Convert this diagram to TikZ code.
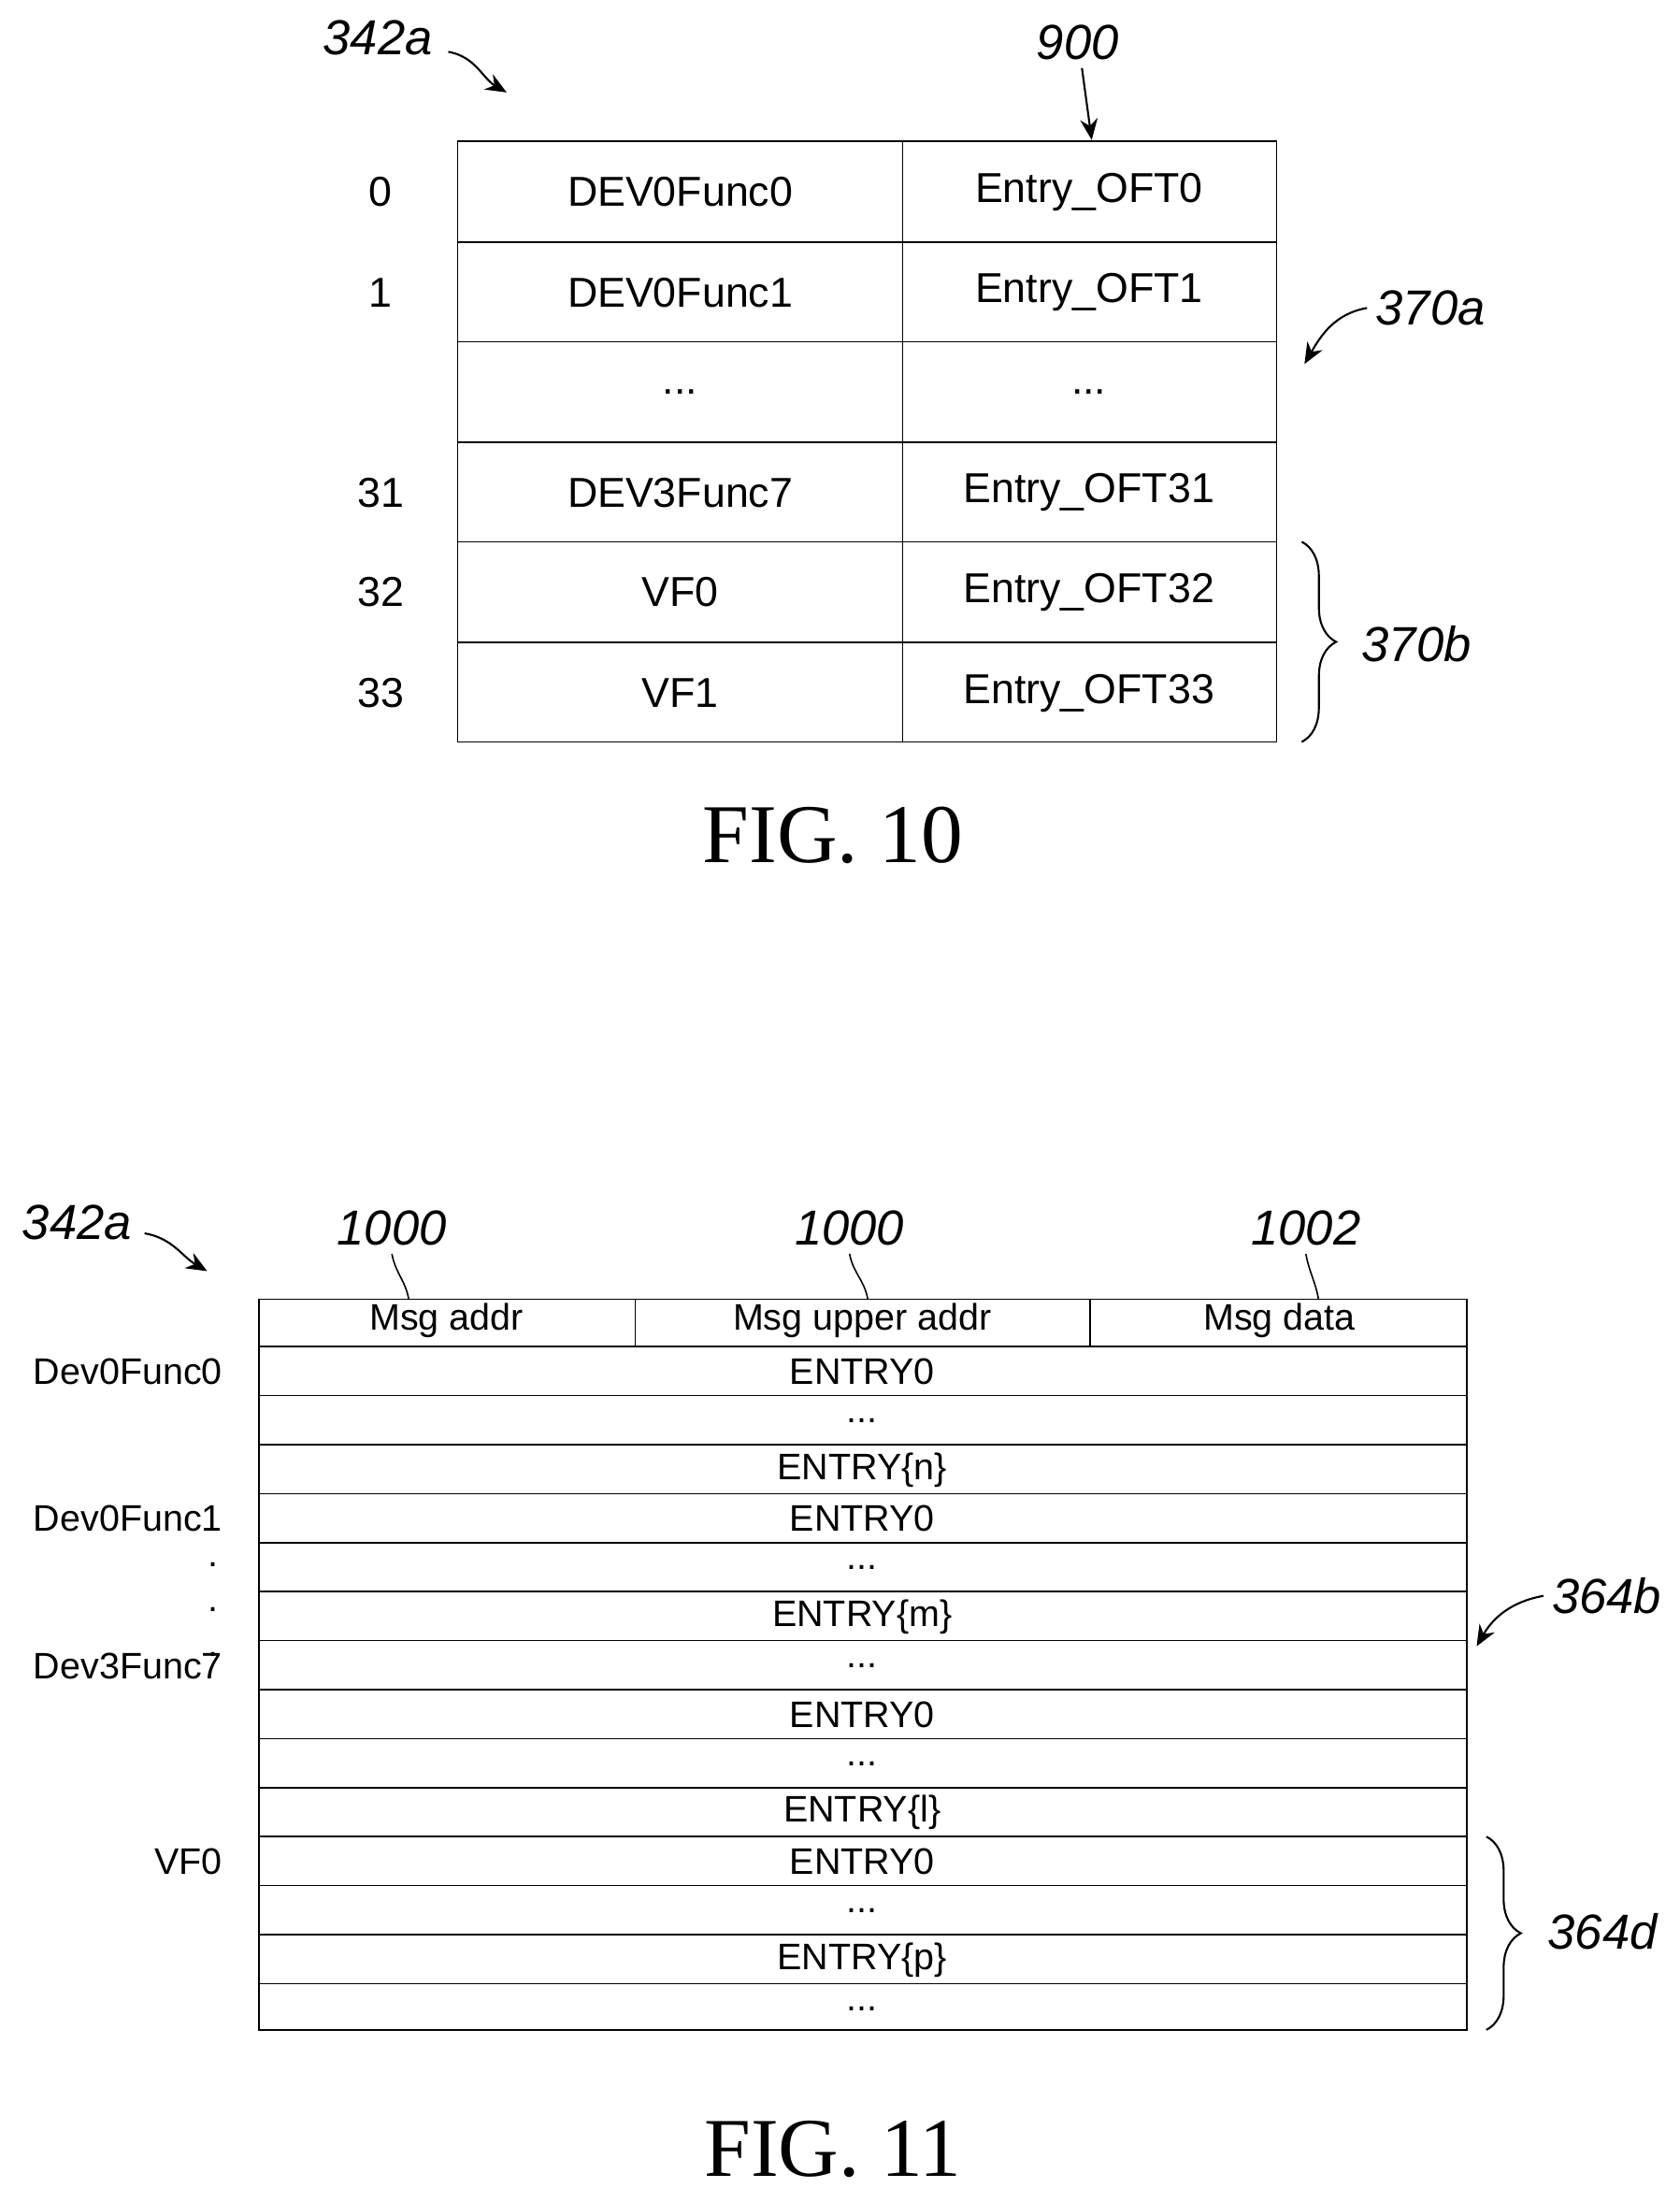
\documentclass[tikz,border=0pt]{standalone}
\usepackage{fontspec}
\setmainfont{Liberation Sans}
\newfontfamily\figfont{Liberation Serif}
\usetikzlibrary{arrows.meta,decorations.pathreplacing}
\newcommand\mydots{...}
\tikzset{
  txt/.style={font=\fontsize{17}{18}\selectfont},
  txts/.style={font=\fontsize{15}{16}\selectfont},
  ref/.style={font=\fontsize{20}{21}\selectfont\itshape},
  figlbl/.style={font=\figfont\fontsize{34}{36}\selectfont},
  ptr/.style={-{Stealth[length=3mm,width=2.5mm]}, line width=0.8pt},
  lead/.style={line width=0.6pt}
}
\begin{document}
\begin{tikzpicture}[x=0.02cm, y=-0.02cm]
\useasboundingbox (0,0) rectangle (1200,1563);
% FIG. 10
\draw[line width=0.6pt] (327,101) rectangle (912,530);
\draw[line width=0.6pt] (645,101) -- (645,530);
\foreach \y in {173,244,316,387,459} {
  \draw[line width=0.6pt] (327,\y) -- (912,\y);
}
\foreach \y/\i/\a/\b [count=\k] in {137/0/DEV0Func0/Entry\_OFT0, 209/1/DEV0Func1/Entry\_OFT1,
  280//\mydots/\mydots, 352/31/DEV3Func7/Entry\_OFT31, 423/32/VF0/Entry\_OFT32, 495/33/VF1/Entry\_OFT33} {
  \node[txt] (idx\k) at (272,\y) {\i};
  \node[txt] (fn\k) at (486,\y) {\a};
  \node[txt] (ent\k) at (778,\y) {\b};
}
\node[ref] (l342a) at (270,27) {342a};
\coordinate (t342a) at (362,66);
\draw[ptr] (l342a.east) ++(5,10) to[out=-10,in=150] (t342a);
\node[ref] (l900) at (770,30) {900};
\coordinate (t900) at (780,100);
\draw[ptr] (l900.south) ++(3,0) -- (t900);
\node[ref] (l370a) at (1022,220) {370a};
\coordinate (t370a) at (932,260);
\draw[ptr] (l370a.west) to[out=190,in=60] (t370a);
\draw[decorate, decoration={brace, amplitude=14pt}, line width=0.8pt] (930,387) -- (930,530);
\node[ref] (l370b) at (1012,460) {370b};
\node[figlbl] (fig10) at (595,597) {FIG. 10};
% FIG. 11
\draw[line width=0.6pt] (185,928) rectangle (1048,1450);
\draw[line width=0.6pt] (454,928) -- (454,962);
\draw[line width=0.6pt] (779,928) -- (779,962);
\node[txts] (h1) at (319,943) {Msg addr};
\node[txts] (h2) at (616,943) {Msg upper addr};
\node[txts] (h3) at (914,943) {Msg data};
\foreach \y in {962,997,1032,1067,1102,1137,1172,1207,1242,1277,1312,1347,1382,1417} {
  \draw[line width=0.6pt] (185,\y) -- (1048,\y);
}
\foreach \t [count=\k] in {ENTRY0,\mydots,ENTRY\{n\},ENTRY0,\mydots,ENTRY\{m\},\mydots,ENTRY0,\mydots,ENTRY\{l\},ENTRY0,\mydots,ENTRY\{p\},\mydots} {
  \node[txts] (row\k) at (616,945+35*\k) {\t};
}
\foreach \y/\t [count=\k] in {980/Dev0Func0, 1085/Dev0Func1, 1190/Dev3Func7, 1330/VF0} {
  \node[txts, anchor=east] (dev\k) at (165,\y) {\t};
}
\foreach \y [count=\k] in {1118,1150,1182} {
  \node[txts] (vd\k) at (152,\y) {.};
}
\node[ref] (l1000a) at (280,877) {1000};
\node[ref] (l1000b) at (607,877) {1000};
\node[ref] (l1002) at (933,877) {1002};
\coordinate (c1) at (292,928);
\coordinate (c2) at (620,928);
\coordinate (c3) at (942,928);
\draw[lead] (l1000a.south) to[out=-80,in=100] (c1);
\draw[lead] (l1000b.south) to[out=-80,in=100] (c2);
\draw[lead] (l1002.south) to[out=-80,in=100] (c3);
\node[ref] (l342b) at (55,873) {342a};
\coordinate (t342b) at (148,908);
\draw[ptr] (l342b.east) ++(3,8) to[out=-10,in=150] (t342b);
\node[ref] (l364b) at (1148,1140) {364b};
\coordinate (t364b) at (1055,1176);
\draw[ptr] (l364b.west) to[out=190,in=60] (t364b);
\draw[decorate, decoration={brace, amplitude=14pt}, line width=0.8pt] (1062,1312) -- (1062,1450);
\node[ref] (l364d) at (1145,1380) {364d};
\node[figlbl] (fig11) at (595,1535) {FIG. 11};
\end{tikzpicture}
\end{document}
